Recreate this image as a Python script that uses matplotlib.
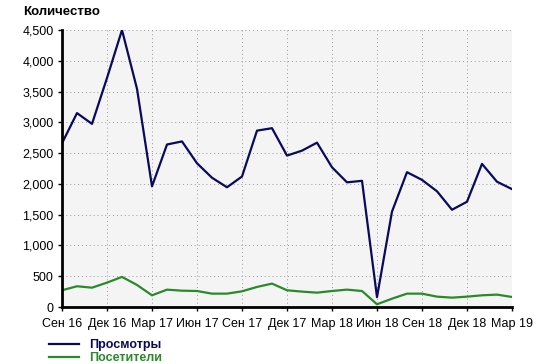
import matplotlib
matplotlib.use("Agg")
import matplotlib.pyplot as plt

plt.rcParams['font.family'] = ['Liberation Sans', 'DejaVu Sans']

# месяцы Сен 16 .. Мар 19
mois = list(range(31))
ticks_labels = ["Сен 16", "Дек 16", "Мар 17", "Июн 17", "Сен 17", "Дек 17",
                "Мар 18", "Июн 18", "Сен 18", "Дек 18", "Мар 19"]

prosmotry = [2660, 3150, 2975, 3720, 4500, 3545, 1960, 2640, 2690, 2335, 2100,
             1945, 2120, 2865, 2905, 2460, 2540, 2670, 2270, 2025, 2050, 160,
             1550, 2190, 2065, 1880, 1580, 1710, 2325, 2035, 1915]
posetiteli = [272, 337, 314, 396, 489, 358, 190, 282, 265, 260, 217,
              217, 255, 326, 380, 272, 250, 233, 260, 282, 260, 44,
              135, 217, 217, 168, 152, 168, 190, 201, 163]

bleu = "#0a0a5a"
vert = "#2a8a2a"

fig = plt.figure(figsize=(5.36, 3.64), dpi=100)
ax = fig.add_axes([62/536, 57/364, 450/536, 277/364])
ax.set_facecolor("#f4f4f4")

l1, = ax.plot(mois, prosmotry, color=bleu, lw=1.6, label="Просмотры")
l2, = ax.plot(mois, posetiteli, color=vert, lw=1.6, label="Посетители")

ax.set_xlim(0, 30)
ax.set_ylim(0, 4500)
ax.set_xticks(range(0, 31, 3))
ax.set_xticklabels(ticks_labels)
ax.set_yticks(range(0, 4501, 500))
ax.set_yticklabels([f"{v:,}" for v in range(0, 4501, 500)])
ax.tick_params(labelsize=9, length=3, width=1, colors="black", pad=3)
ax.tick_params(axis="x", pad=5)
ax.grid(True, linestyle=(0, (1, 3)), color="#999999", lw=0.7)

for s in ["top", "right"]:
    ax.spines[s].set_visible(False)
for s in ["left", "bottom"]:
    ax.spines[s].set_linewidth(2)

fig.text(23/536, 1 - 12/364, "Количество", fontsize=9.5, fontweight="bold", va="center", ha="left")

leg = fig.legend(handles=[l1, l2], loc="upper left", bbox_to_anchor=(43/536, 1 - 333/364),
                 frameon=False, fontsize=9, handlelength=2.4, handletextpad=0.8,
                 labelspacing=0.05, labelcolor=[bleu, vert], borderpad=0)
for t in leg.get_texts():
    t.set_fontweight("bold")

fig.savefig("out.png", dpi=100)
